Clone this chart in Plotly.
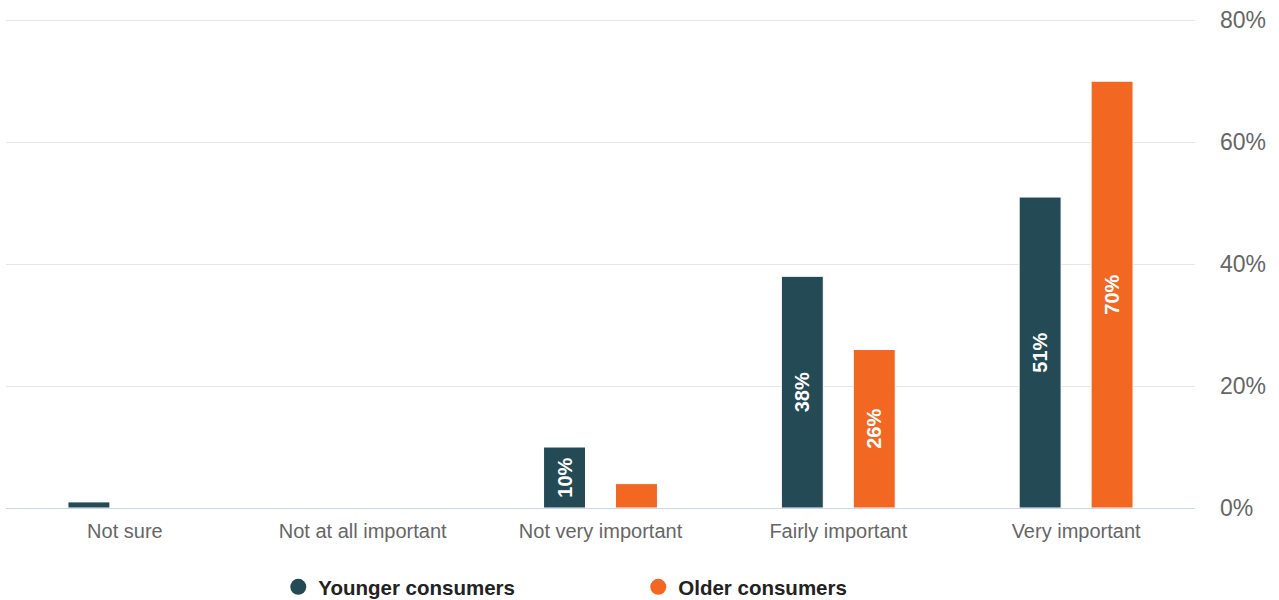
import plotly.graph_objects as go

categories = ["Not sure", "Not at all important", "Not very important",
              "Fairly important", "Very important"]
younger = [1, 0, 10, 38, 51]
older = [0, 0, 4, 26, 70]
series_names = ["Younger consumers", "Older consumers"]
colors = ["#234a55", "#f26722"]
y_ticks = [0, 20, 40, 60, 80]

FONT = "Liberation Sans, Arial, Helvetica, sans-serif"


def bar_labels(values, min_value=10):
    return [f"{v}%" if v >= min_value else "" for v in values]


fig = go.Figure()
for name, vals, col in zip(series_names, [younger, older], colors):
    fig.add_trace(go.Bar(
        x=categories, y=vals, name=name,
        marker=dict(color=col, line=dict(color="white", width=1)),
        text=bar_labels(vals), textposition="inside", insidetextanchor="middle",
        textangle=-90, constraintext="none",
        textfont=dict(family=FONT, size=20, color="white", weight="bold"),
        showlegend=False, hoverinfo="skip",
    ))
    # circular legend entries
    fig.add_trace(go.Scatter(
        x=[None], y=[None], mode="markers", name=name,
        marker=dict(color=col, size=18, symbol="circle"),
    ))

fig.update_layout(
    width=1279, height=600,
    margin=dict(l=6, r=84, t=19, b=92, autoexpand=False),
    paper_bgcolor="white", plot_bgcolor="white",
    barmode="group", bargap=0.395, bargroupgap=0.417,
    font=dict(family=FONT, color="#666666"),
    showlegend=True,
    legend=dict(
        orientation="h", x=0.229, xanchor="left",
        yref="container", y=0.055, yanchor="top",
        font=dict(family=FONT, size=20.5, color="#222222", weight="bold"),
        entrywidth=315, entrywidthmode="pixels", itemclick=False,
    ),
    xaxis=dict(
        showgrid=False, showline=True, linecolor="#ccd6eb", linewidth=1,
        ticks="outside", ticklen=5, tickcolor="rgba(0,0,0,0)",
        tickfont=dict(size=20, color="#666666"),
        fixedrange=True, automargin=False,
    ),
    yaxis=dict(
        side="right", range=[0, 80.2], tickvals=y_ticks,
        ticktext=[f"{t}%" for t in y_ticks],
        showgrid=True, gridcolor="#e6e6e6", gridwidth=1, zeroline=False,
        showline=False, tickfont=dict(size=23, color="#666666"),
        ticklabelstandoff=24, fixedrange=True, automargin=False,
    ),
)

fig.write_html("out.html")
